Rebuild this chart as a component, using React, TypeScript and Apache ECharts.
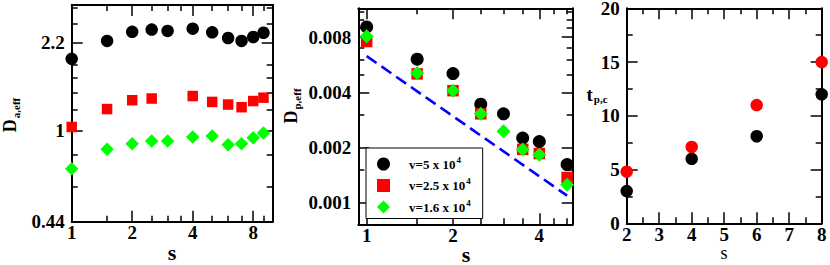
import React, { useEffect, useRef } from "react";
import * as echarts from "echarts";

// ---------- Panel 1: D_a,eff vs s ----------
const S1 = [1, 1.5, 2, 2.5, 3, 4, 5, 6, 7, 8, 9];
const DA_V5 = [1.9, 2.23, 2.42, 2.47, 2.44, 2.49, 2.41, 2.29, 2.23, 2.31, 2.4];
const S1_RED = [1, 1.5, 2, 2.5, 4, 5, 6, 7, 8, 9];
const DA_V25 = [1.03, 1.21, 1.31, 1.33, 1.36, 1.29, 1.26, 1.23, 1.3, 1.34];
const DA_V16 = [0.708, 0.843, 0.887, 0.909, 0.909, 0.942, 0.95, 0.879, 0.887, 0.936, 0.976];

// ---------- Panel 2: D_p,eff vs s ----------
const S2 = [1, 1.5, 2, 2.5, 3, 3.5, 4, 5];
const DP_V5 = [0.0091, 0.00606, 0.00506, 0.00344, 0.00305, 0.00225, 0.00215, 0.00161];
const S2_RED = [1, 1.5, 2, 2.5, 3.5, 4, 5];
const DP_V25 = [0.00757, 0.00504, 0.00408, 0.00305, 0.00195, 0.00185, 0.00137];
const DP_V16 = [0.0081, 0.0051, 0.00408, 0.00305, 0.00245, 0.00195, 0.00182, 0.00125];
const FIT_S = [1, 5];
const FIT_D = [0.0063, 0.00109];

// ---------- Panel 3: t_p,c vs s ----------
const S3 = [2, 4, 6, 8];
const TPC_BLACK = [3, 6, 8.1, 12];
const TPC_RED = [4.8, 7.1, 11, 15];

// ---------- Ticks ----------
const X1_MAJOR = [1, 2, 4, 8];
const X1_LABELS = ["1", "2", "4", "8"];
const X1_MINOR = [1.5, 2.5, 3, 3.5, 5, 6, 7, 9];
const Y1_MAJOR = [0.44, 1, 2.2];
const Y1_LABELS = ["0.44", "1", "2.2"];
const Y1_MINOR = [0.6, 0.8, 1.2, 1.4, 1.6, 1.8, 2.6, 3.0];

const X2_MAJOR = [1, 2, 4];
const X2_LABELS = ["1", "2", "4"];
const X2_MINOR = [1.5, 2.5, 3, 3.5, 4.5, 5];
const Y2_MAJOR = [0.001, 0.002, 0.004, 0.008];
const Y2_LABELS = ["0.001", "0.002", "0.004", "0.008"];
const Y2_MINOR = [0.0015, 0.003, 0.005, 0.006, 0.007, 0.009, 0.01, 0.011];

const X3_MAJOR = [2, 3, 4, 5, 6, 7, 8];
const X3_LABELS = ["2", "3", "4", "5", "6", "7", "8"];
const X3_MINOR = [2.5, 3.5, 4.5, 5.5, 6.5, 7.5];
const Y3_MAJOR = [0, 5, 10, 15, 20];
const Y3_LABELS = ["0", "5", "10", "15", "20"];
const Y3_MINOR = [2.5, 7.5, 12.5, 17.5];

const LEGEND_NAMES = ["v=5 x 10^4", "v=2.5 x 10^4", "v=1.6 x 10^4"];

const SERIF = "Liberation Serif";
const BLACK = "#000000";
const RED = "#ff0000";
const GREEN = "#00ff00";
const BLUE = "#0000ff";

function buildAxes(
  kind: "x" | "y",
  grid: number,
  base: any,
  major: number[],
  minor: number[],
  labels: string[],
  list: any[]
): number {
  const pos = kind === "x" ? ["bottom", "top"] : ["left", "right"];
  const fmt = (v: number) => {
    const i = major.findIndex((m) => Math.abs(m - v) <= 1e-6 * Math.max(Math.abs(m), 1e-9));
    return i >= 0 ? labels[i] : "";
  };
  const common = {
    gridIndex: grid,
    ...base,
    splitLine: { show: false },
    minorTick: { show: false },
    minorSplitLine: { show: false },
  };
  const lineStyle = { color: BLACK, width: 2 };
  const tickStyle = { color: BLACK, width: 1.5 };
  const mainIndex = list.length;
  list.push({
    ...common,
    position: pos[0],
    axisLine: { show: true, onZero: false, lineStyle },
    axisTick: { show: true, inside: true, length: 11, customValues: major, lineStyle: tickStyle },
    axisLabel: {
      show: true,
      customValues: major,
      formatter: fmt,
      fontFamily: SERIF,
      fontWeight: "bold",
      fontSize: 19,
      lineHeight: 14,
      color: BLACK,
      margin: kind === "x" ? 4 : 7,
      hideOverlap: false,
      showMinLabel: true,
      showMaxLabel: true,
    },
  });
  list.push({
    ...common,
    position: pos[0],
    axisLine: { show: false, onZero: false },
    axisTick: { show: true, inside: true, length: 6, customValues: minor, lineStyle: tickStyle },
    axisLabel: { show: false },
  });
  list.push({
    ...common,
    position: pos[1],
    axisLine: { show: true, onZero: false, lineStyle },
    axisTick: { show: true, inside: true, length: 11, customValues: major, lineStyle: tickStyle },
    axisLabel: { show: false },
  });
  list.push({
    ...common,
    position: pos[1],
    axisLine: { show: false, onZero: false },
    axisTick: { show: true, inside: true, length: 6, customValues: minor, lineStyle: tickStyle },
    axisLabel: { show: false },
  });
  return mainIndex;
}

function zip(xs: number[], ys: number[]) {
  return xs.map((x, i) => [x, ys[i]]);
}

export default function App() {
  const ref = useRef<HTMLDivElement>(null);

  useEffect(() => {
    if (!ref.current) return;
    const chart = echarts.init(ref.current, undefined, { renderer: "svg" });

    const xAxes: any[] = [];
    const yAxes: any[] = [];

    const x1 = buildAxes("x", 0, { type: "log", logBase: 2, min: 1, max: 10 }, X1_MAJOR, X1_MINOR, X1_LABELS, xAxes);
    const y1 = buildAxes("y", 0, { type: "log", logBase: 10, min: 0.44, max: 3.08 }, Y1_MAJOR, Y1_MINOR, Y1_LABELS, yAxes);
    const x2 = buildAxes("x", 1, { type: "log", logBase: 2, min: 0.935, max: 5.23 }, X2_MAJOR, X2_MINOR, X2_LABELS, xAxes);
    const y2 = buildAxes("y", 1, { type: "log", logBase: 2, min: 0.00076, max: 0.0115 }, Y2_MAJOR, Y2_MINOR, Y2_LABELS, yAxes);
    const x3 = buildAxes("x", 2, { type: "value", min: 2, max: 8 }, X3_MAJOR, X3_MINOR, X3_LABELS, xAxes);
    const y3 = buildAxes("y", 2, { type: "value", min: 0, max: 20 }, Y3_MAJOR, Y3_MINOR, Y3_LABELS, yAxes);

    const sub = (size: number, bold: boolean, pad: number[]) => ({
      fontFamily: SERIF,
      fontWeight: bold ? "bold" : "normal",
      fontSize: size,
      fill: BLACK,
      color: BLACK,
      padding: pad,
    });

    const scatter = (name: string, xi: number, yi: number, data: number[][], symbol: string, size: number, color: string) => ({
      type: "scatter",
      name,
      xAxisIndex: xi,
      yAxisIndex: yi,
      data,
      symbol,
      symbolSize: size,
      itemStyle: { color, opacity: 1 },
      emphasis: { disabled: true },
    });

    const option: any = {
      animation: false,
      backgroundColor: "#ffffff",
      grid: [
        { left: 71.7, top: 5, width: 201, height: 216.7, outerBoundsMode: "none", containLabel: false },
        { left: 358.3, top: 8.3, width: 214.4, height: 216, outerBoundsMode: "none", containLabel: false },
        { left: 626.7, top: 8.3, width: 195, height: 215, outerBoundsMode: "none", containLabel: false },
      ],
      xAxis: xAxes,
      yAxis: yAxes,
      legend: {
        show: true,
        orient: "vertical",
        left: 366,
        top: 148,
        data: LEGEND_NAMES,
        selectedMode: false,
        backgroundColor: "#ffffff",
        borderColor: BLACK,
        borderWidth: 1,
        borderRadius: 0,
        padding: [7, 12, 5, 11],
        itemGap: 6,
        itemWidth: 13,
        itemHeight: 13,
        formatter: (n: string) => {
          const [a, b] = n.split("^");
          return `{a|${a}}{b|${b}}`;
        },
        textStyle: {
          fontFamily: SERIF,
          fontWeight: "bold",
          fontSize: 13,
          color: BLACK,
          rich: {
            a: { fontFamily: SERIF, fontWeight: "bold", fontSize: 13, color: BLACK, padding: [0, 0, 0, 14] },
            b: { fontFamily: SERIF, fontWeight: "bold", fontSize: 9, color: BLACK, padding: [0, 0, 9, 1] },
          },
        },
      },
      series: [
        scatter("p1-black", x1, y1, zip(S1, DA_V5), "circle", 12.5, BLACK),
        scatter("p1-red", x1, y1, zip(S1_RED, DA_V25), "rect", 10.5, RED),
        scatter("p1-green", x1, y1, zip(S1, DA_V16), "diamond", 13.5, GREEN),
        {
          type: "line",
          name: "fit",
          xAxisIndex: x2,
          yAxisIndex: y2,
          data: zip(FIT_S, FIT_D),
          symbol: "none",
          lineStyle: { color: BLUE, width: 2.6, type: [12, 6] },
          emphasis: { disabled: true },
          z: 1,
        },
        scatter(LEGEND_NAMES[0], x2, y2, zip(S2, DP_V5), "circle", 13, BLACK),
        scatter(LEGEND_NAMES[1], x2, y2, zip(S2_RED, DP_V25), "rect", 11.5, RED),
        scatter(LEGEND_NAMES[2], x2, y2, zip(S2, DP_V16), "diamond", 14, GREEN),
        scatter("p3-black", x3, y3, zip(S3, TPC_BLACK), "circle", 12.5, BLACK),
        scatter("p3-red", x3, y3, zip(S3, TPC_RED), "circle", 12.5, RED),
      ],
      graphic: [
        {
          type: "text",
          x: 10,
          y: 115,
          rotation: Math.PI / 2,
          style: {
            text: "{a|D}{b|a,eff}",
            align: "center",
            verticalAlign: "middle",
            rich: { a: sub(18, true, [0, 0, 0, 0]), b: sub(11, true, [12, 0, 0, 1]) },
          },
        },
        {
          type: "text",
          x: 291,
          y: 106,
          rotation: Math.PI / 2,
          style: {
            text: "{a|D}{b|p,eff}",
            align: "center",
            verticalAlign: "middle",
            rich: { a: sub(18, true, [0, 0, 0, 0]), b: sub(11, true, [12, 0, 0, 1]) },
          },
        },
        {
          type: "text",
          x: 597,
          y: 94,
          style: {
            text: "{a|t}{b|p,c}",
            align: "center",
            verticalAlign: "middle",
            rich: { a: sub(19, true, [0, 0, 0, 0]), b: sub(11, true, [10, 0, 0, 1]) },
          },
        },
        {
          type: "text",
          x: 172,
          y: 252,
          style: { text: "s", align: "center", verticalAlign: "middle", fontFamily: SERIF, fontWeight: "bold", fontSize: 22, fill: BLACK },
        },
        {
          type: "text",
          x: 466,
          y: 254,
          style: { text: "s", align: "center", verticalAlign: "middle", fontFamily: SERIF, fontWeight: "bold", fontSize: 22, fill: BLACK },
        },
        {
          type: "text",
          x: 724,
          y: 253,
          style: { text: "s", align: "center", verticalAlign: "middle", fontFamily: SERIF, fontWeight: "normal", fontSize: 18, fill: BLACK },
        },
      ],
    };

    chart.setOption(option);
    return () => chart.dispose();
  }, []);

  return (
    <div
      ref={ref}
      style={{ position: "fixed", left: 0, top: 0, width: 830, height: 265, background: "#ffffff" }}
    />
  );
}
